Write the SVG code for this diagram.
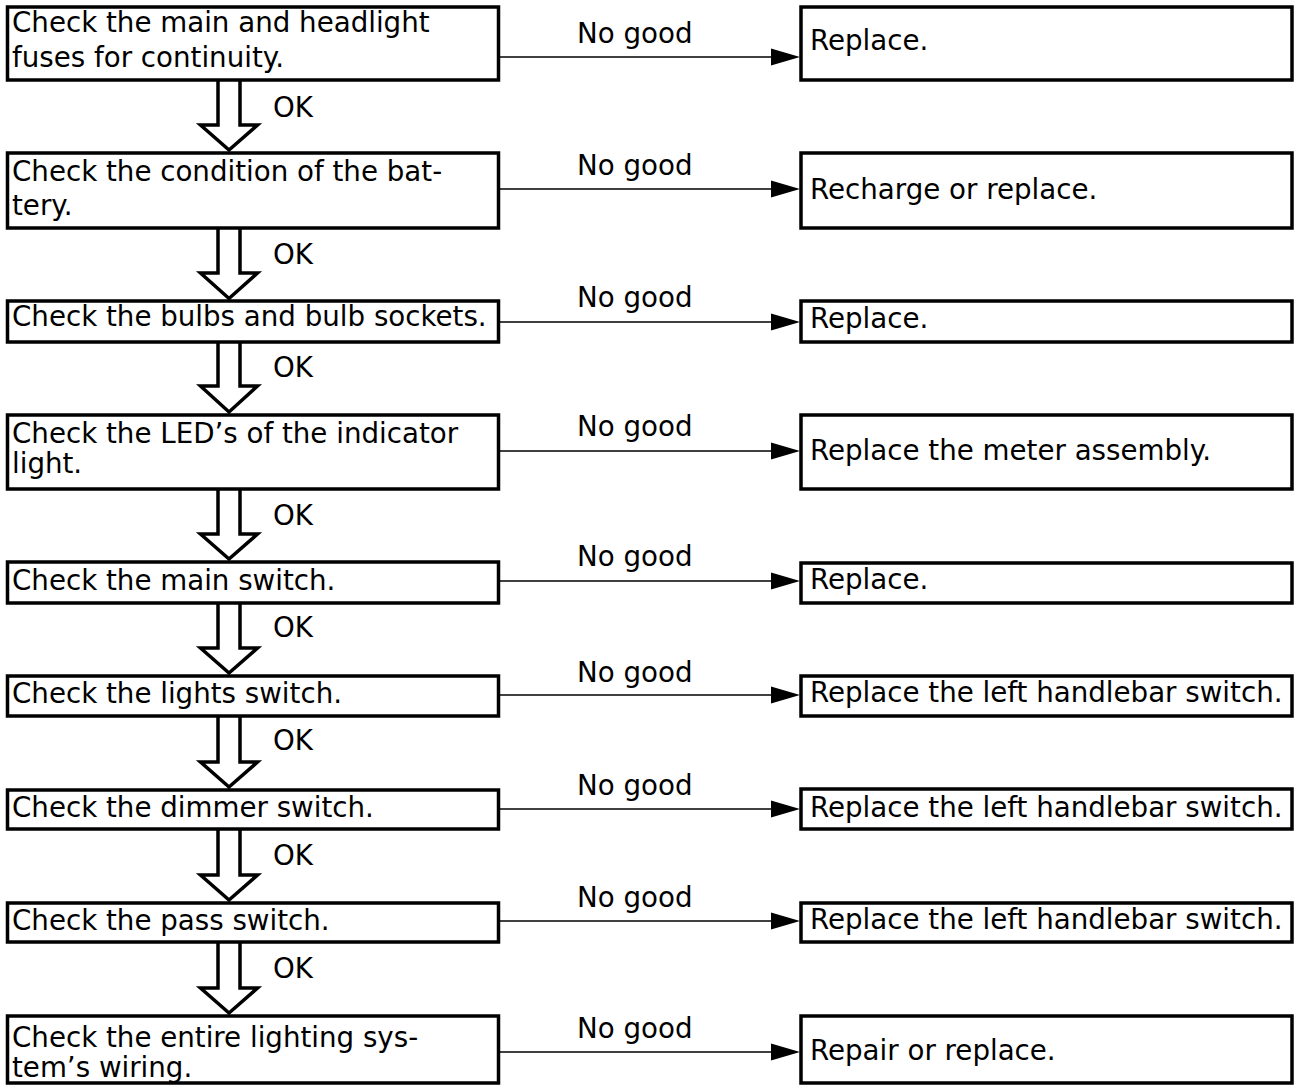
<svg xmlns="http://www.w3.org/2000/svg" width="1295" height="1085" viewBox="0 0 1295 1085">
  <style>
    .box { fill: #fff; stroke: #000; stroke-width: 3.5; }
    .txt { font-family: "DejaVu Sans", "Liberation Sans", sans-serif; font-size: 27.7px; fill: #000; }
    .link { stroke: #000; stroke-width: 1.5; fill: none; }
    .head { fill: #000; stroke: none; }
    .ok { fill: #fff; stroke: #000; stroke-width: 3.5; stroke-linejoin: miter; }
  </style>
  <rect width="1295" height="1085" fill="#fff"/>

  <!-- connectors: "No good" branches and "OK" arrows -->
  <g id="connectors">
    <g id="nogood-links">
      <line class="link" x1="500" y1="57" x2="772" y2="57"/><path class="head" d="M771,48.5 L800,57 L771,65.5 Z"/>
      <line class="link" x1="500" y1="189" x2="772" y2="189"/><path class="head" d="M771,180.5 L800,189 L771,197.5 Z"/>
      <line class="link" x1="500" y1="322" x2="772" y2="322"/><path class="head" d="M771,313.5 L800,322 L771,330.5 Z"/>
      <line class="link" x1="500" y1="451" x2="772" y2="451"/><path class="head" d="M771,442.5 L800,451 L771,459.5 Z"/>
      <line class="link" x1="500" y1="581" x2="772" y2="581"/><path class="head" d="M771,572.5 L800,581 L771,589.5 Z"/>
      <line class="link" x1="500" y1="695" x2="772" y2="695"/><path class="head" d="M771,686.5 L800,695 L771,703.5 Z"/>
      <line class="link" x1="500" y1="809" x2="772" y2="809"/><path class="head" d="M771,800.5 L800,809 L771,817.5 Z"/>
      <line class="link" x1="500" y1="921" x2="772" y2="921"/><path class="head" d="M771,912.5 L800,921 L771,929.5 Z"/>
      <line class="link" x1="500" y1="1052" x2="772" y2="1052"/><path class="head" d="M771,1043.5 L800,1052 L771,1060.5 Z"/>
      <text class="txt" x="577" y="43">No good</text>
      <text class="txt" x="577" y="175">No good</text>
      <text class="txt" x="577" y="307">No good</text>
      <text class="txt" x="577" y="436">No good</text>
      <text class="txt" x="577" y="566">No good</text>
      <text class="txt" x="577" y="682">No good</text>
      <text class="txt" x="577" y="795">No good</text>
      <text class="txt" x="577" y="907">No good</text>
      <text class="txt" x="577" y="1038">No good</text>
    </g>
    <g id="ok-arrows">
      <path class="ok" d="M218,80 V125 H200.5 L229,150 L257.5,125 H240 V80"/>
      <path class="ok" d="M218,228 V273 H200.5 L229,298.5 L257.5,273 H240 V228"/>
      <path class="ok" d="M218,342 V386 H200.5 L229,412 L257.5,386 H240 V342"/>
      <path class="ok" d="M218,489 V534 H200.5 L229,559 L257.5,534 H240 V489"/>
      <path class="ok" d="M218,603 V648 H200.5 L229,673 L257.5,648 H240 V603"/>
      <path class="ok" d="M218,716 V762 H200.5 L229,787 L257.5,762 H240 V716"/>
      <path class="ok" d="M218,829 V875 H200.5 L229,900 L257.5,875 H240 V829"/>
      <path class="ok" d="M218,942 V988 H200.5 L229,1013 L257.5,988 H240 V942"/>
      <text class="txt" x="273" y="117">OK</text>
      <text class="txt" x="273" y="264">OK</text>
      <text class="txt" x="273" y="377">OK</text>
      <text class="txt" x="273" y="525">OK</text>
      <text class="txt" x="273" y="637">OK</text>
      <text class="txt" x="273" y="750">OK</text>
      <text class="txt" x="273" y="865">OK</text>
      <text class="txt" x="273" y="978">OK</text>
    </g>
  </g>

  <!-- check steps (left column) -->
  <g id="check-fuses"><rect class="box" x="7.5" y="7" width="491" height="73"/>
    <text class="txt" x="12" y="32">Check the main and headlight</text>
    <text class="txt" x="12" y="67">fuses for continuity.</text></g>
  <g id="check-battery"><rect class="box" x="7.5" y="153" width="491" height="75"/>
    <text class="txt" x="12" y="181">Check the condition of the bat-</text>
    <text class="txt" x="12" y="215">tery.</text></g>
  <g id="check-bulbs"><rect class="box" x="7.5" y="301" width="491" height="41"/>
    <text class="txt" x="12" y="326">Check the bulbs and bulb sockets.</text></g>
  <g id="check-leds"><rect class="box" x="7.5" y="415" width="491" height="74"/>
    <text class="txt" x="12" y="443">Check the LED’s of the indicator</text>
    <text class="txt" x="12" y="473">light.</text></g>
  <g id="check-main-switch"><rect class="box" x="7.5" y="562" width="491" height="41"/>
    <text class="txt" x="12" y="590">Check the main switch.</text></g>
  <g id="check-lights-switch"><rect class="box" x="7.5" y="676" width="491" height="40"/>
    <text class="txt" x="12" y="703">Check the lights switch.</text></g>
  <g id="check-dimmer-switch"><rect class="box" x="7.5" y="790" width="491" height="39"/>
    <text class="txt" x="12" y="817">Check the dimmer switch.</text></g>
  <g id="check-pass-switch"><rect class="box" x="7.5" y="903" width="491" height="39"/>
    <text class="txt" x="12" y="930">Check the pass switch.</text></g>
  <g id="check-wiring"><rect class="box" x="7.5" y="1016" width="491" height="67"/>
    <text class="txt" x="12" y="1047">Check the entire lighting sys-</text>
    <text class="txt" x="12" y="1077">tem’s wiring.</text></g>

  <!-- remedies (right column) -->
  <g id="fix-fuses"><rect class="box" x="801" y="7" width="491" height="73"/>
    <text class="txt" x="810" y="50">Replace.</text></g>
  <g id="fix-battery"><rect class="box" x="801" y="153" width="491" height="75"/>
    <text class="txt" x="810" y="199">Recharge or replace.</text></g>
  <g id="fix-bulbs"><rect class="box" x="801" y="301" width="491" height="41"/>
    <text class="txt" x="810" y="328">Replace.</text></g>
  <g id="fix-leds"><rect class="box" x="801" y="415" width="491" height="74"/>
    <text class="txt" x="810" y="460">Replace the meter assembly.</text></g>
  <g id="fix-main-switch"><rect class="box" x="801" y="563" width="491" height="40"/>
    <text class="txt" x="810" y="589">Replace.</text></g>
  <g id="fix-lights-switch"><rect class="box" x="801" y="676" width="491" height="40"/>
    <text class="txt" x="810" y="702">Replace the left handlebar switch.</text></g>
  <g id="fix-dimmer-switch"><rect class="box" x="801" y="789" width="491" height="40"/>
    <text class="txt" x="810" y="817">Replace the left handlebar switch.</text></g>
  <g id="fix-pass-switch"><rect class="box" x="801" y="903" width="491" height="39"/>
    <text class="txt" x="810" y="929">Replace the left handlebar switch.</text></g>
  <g id="fix-wiring"><rect class="box" x="801" y="1016" width="491" height="67"/>
    <text class="txt" x="810" y="1060">Repair or replace.</text></g>
</svg>
